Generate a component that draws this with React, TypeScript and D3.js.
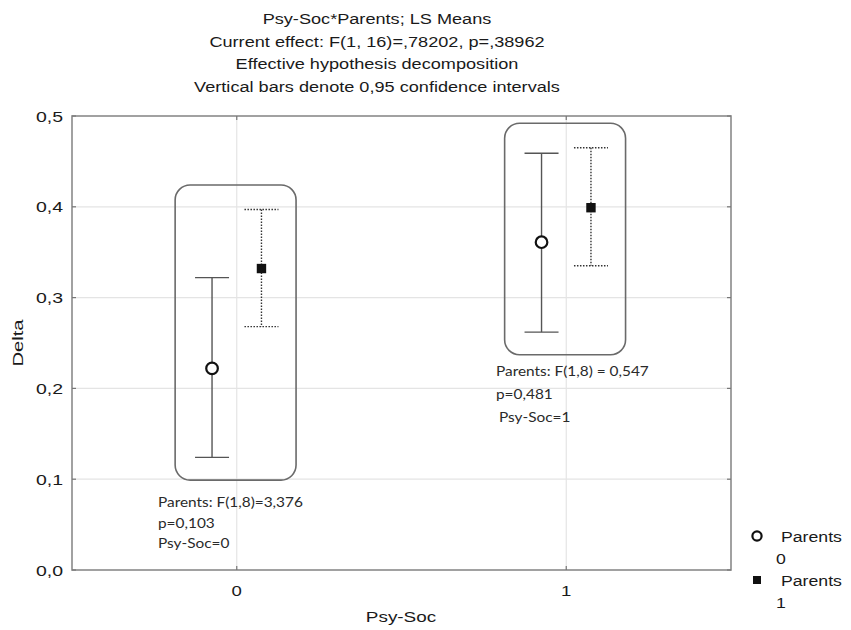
import React from "react";
import * as d3 from "d3";

// Psy-Soc * Parents, LS means with 0.95 confidence intervals
const psySoc = [0, 1];
const parentsLevels = ["0", "1"];
const mean0 = [0.222, 0.361];
const lower0 = [0.124, 0.262];
const upper0 = [0.322, 0.459];
const mean1 = [0.332, 0.399];
const lower1 = [0.268, 0.335];
const upper1 = [0.397, 0.465];
const yTicks = [0, 0.1, 0.2, 0.3, 0.4, 0.5];
const titleLines = [
  "Psy-Soc*Parents; LS Means",
  "Current effect: F(1, 16)=,78202, p=,38962",
  "Effective hypothesis decomposition",
  "Vertical bars denote 0,95 confidence intervals",
];
const notes = [
  ["Parents: F(1,8)=3,376", "p=0,103", "Psy-Soc=0"],
  ["Parents: F(1,8) = 0,547", "p=0,481", "Psy-Soc=1"],
];

const W = 851;
const H = 630;
const left = 72, right = 731, top = 116, bottom = 570;
const font = "'Liberation Sans', Arial, sans-serif";
const noteFont = "Lato, 'Noto Sans', sans-serif";

const fmt = (v: number) => v.toFixed(1).replace(".", ",");

function Txt({ x, y, sx = 1.2, size = 15, anchor = "start", rotate = 0, family = font, fill = "#1a1a1a", children }: any) {
  return (
    <text
      transform={`translate(${x},${y}) rotate(${rotate}) scale(${sx},1)`}
      fontSize={size}
      fontFamily={family}
      textAnchor={anchor}
      fill={fill}
    >
      {children}
    </text>
  );
}

export default function App() {
  const x = d3.scaleLinear().domain([-0.5, 1.5]).range([left, right]);
  const y = d3.scaleLinear().domain([0, 0.5]).range([bottom, top]);
  const off = 0.075;
  const cap = 17;

  const series = [
    { mean: mean0, lo: lower0, hi: upper0, dx: -off, dash: undefined, stroke: "#555" },
    { mean: mean1, lo: lower1, hi: upper1, dx: off, dash: "1.5,1.5", stroke: "#333" },
  ];

  // where each group's note text starts, relative to its box
  const noteAt = [
    { x: 158, y: 507, step: 20.5 },
    { x: 496, y: 376, step: 23 },
  ];

  return (
    <svg width={W} height={H} style={{ position: "absolute", left: 0, top: 0 }}>
      <rect width={W} height={H} fill="#fff" />
      {titleLines.map((t, i) => (
        <Txt key={i} x={377} y={24 + i * 22.5} anchor="middle" size={15.5} sx={1.17}>{t}</Txt>
      ))}

      {/* grid */}
      {yTicks.slice(1, -1).map((t) => (
        <line key={t} x1={left} x2={right} y1={y(t)} y2={y(t)} stroke="#e4e4e4" strokeWidth={1.2} />
      ))}
      {psySoc.map((c) => (
        <line key={c} x1={x(c)} x2={x(c)} y1={top} y2={bottom} stroke="#e4e4e4" strokeWidth={1.2} />
      ))}

      {/* frame and ticks */}
      <rect x={left} y={top} width={right - left} height={bottom - top} fill="none" stroke="#8a8a8a" strokeWidth={1.6} />
      {yTicks.map((t) => (
        <g key={t}>
          <line x1={left} x2={left + 4} y1={y(t)} y2={y(t)} stroke="#777" strokeWidth={1.2} />
          <line x1={right - 4} x2={right} y1={y(t)} y2={y(t)} stroke="#777" strokeWidth={1.2} />
          <Txt x={63} y={y(t) + 5.5} anchor="end" size={15} sx={1.3}>{fmt(t)}</Txt>
        </g>
      ))}
      {psySoc.map((c) => (
        <g key={c}>
          <line x1={x(c)} x2={x(c)} y1={bottom - 4} y2={bottom} stroke="#777" strokeWidth={1.2} />
          <line x1={x(c)} x2={x(c)} y1={top} y2={top + 4} stroke="#777" strokeWidth={1.2} />
          <Txt x={x(c)} y={596} anchor="middle" size={15.5} sx={1.2}>{String(c)}</Txt>
        </g>
      ))}
      <Txt x={401} y={622} anchor="middle" size={15.5} sx={1.22}>Psy-Soc</Txt>
      <Txt x={23} y={(top + bottom) / 2} anchor="middle" size={15} sx={1.35} rotate={-90}>Delta</Txt>

      {/* annotation boxes */}
      {psySoc.map((c, i) => {
        const lo = Math.min(lower0[i], lower1[i]) - 0.025;
        const hi = Math.max(upper0[i], upper1[i]) + 0.027;
        return (
          <rect key={c} x={x(c - 0.187)} y={y(hi)} width={x(c + 0.18) - x(c - 0.187)} height={y(lo) - y(hi)}
            rx={15} fill="none" stroke="#6a6a6a" strokeWidth={1.6} />
        );
      })}

      {/* error bars */}
      {series.map((s, si) =>
        psySoc.map((c, i) => {
          const cx = x(c + s.dx);
          return (
            <g key={`${si}-${c}`} stroke={s.stroke} strokeWidth={1.4} strokeDasharray={s.dash}>
              <line x1={cx} x2={cx} y1={y(s.hi[i])} y2={y(s.lo[i])} />
              <line x1={cx - cap} x2={cx + cap} y1={y(s.hi[i])} y2={y(s.hi[i])} />
              <line x1={cx - cap} x2={cx + cap} y1={y(s.lo[i])} y2={y(s.lo[i])} />
            </g>
          );
        })
      )}
      {psySoc.map((c, i) => (
        <circle key={c} cx={x(c - off)} cy={y(mean0[i])} r={5.8} fill="#fff" stroke="#111" strokeWidth={2.2} />
      ))}
      {psySoc.map((c, i) => (
        <rect key={c} x={x(c + off) - 4.7} y={y(mean1[i]) - 4.7} width={9.4} height={9.4} fill="#111" />
      ))}

      {/* notes */}
      {notes.map((lines, g) =>
        lines.map((t, i) => (
          <Txt key={`${g}-${i}`} x={noteAt[g].x + (g === 1 && i === 2 ? 3 : 0)} y={noteAt[g].y + i * noteAt[g].step}
            size={14} sx={1.1} family={noteFont} fill="#2a2a2a">{t}</Txt>
        ))
      )}

      {/* legend */}
      {parentsLevels.map((lv, i) => (
        <g key={lv}>
          {i === 0 ? (
            <circle cx={757} cy={536} r={4.6} fill="#fff" stroke="#111" strokeWidth={2.2} />
          ) : (
            <rect x={753} y={576} width={8} height={8} fill="#111" />
          )}
          <Txt x={781} y={542 + i * 44} size={14.5} sx={1.22}>Parents</Txt>
          <Txt x={776} y={564 + i * 44} size={14.5} sx={1.22}>{lv}</Txt>
        </g>
      ))}
    </svg>
  );
}
